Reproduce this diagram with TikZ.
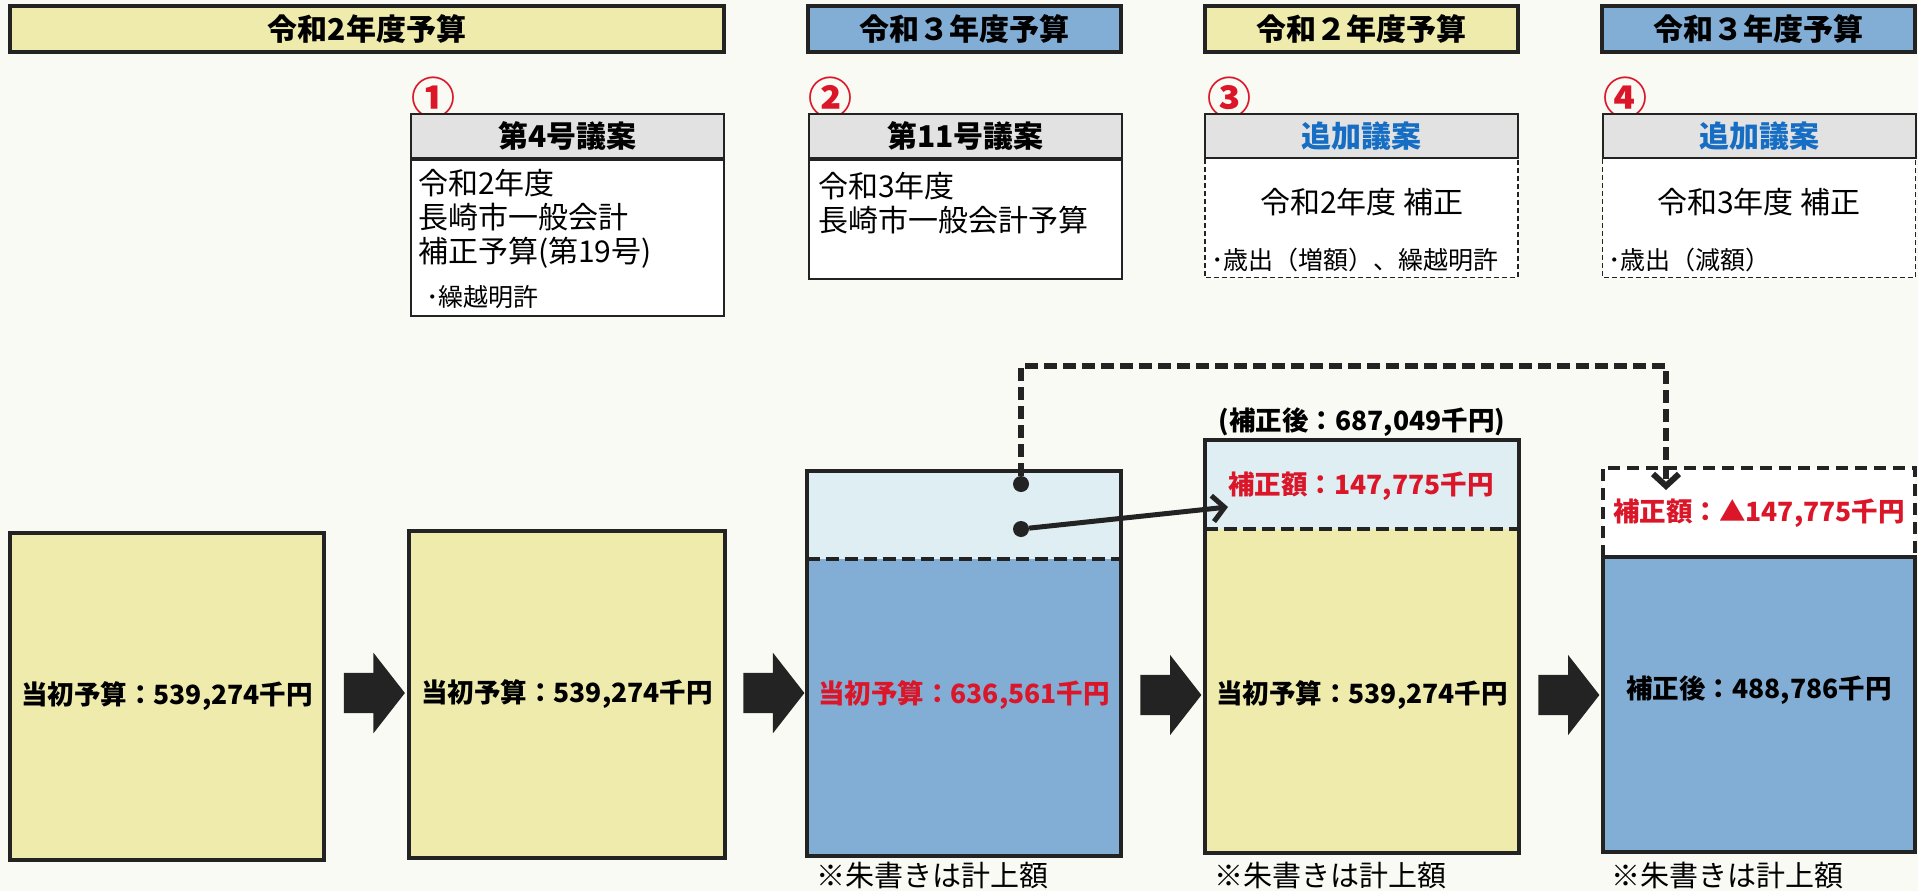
\documentclass[tikz,border=0pt]{standalone}
\usepackage{fontspec}
\setmainfont{Noto Sans CJK JP}
\usetikzlibrary{calc,arrows.meta,shapes.arrows}

\definecolor{paper}{RGB}{250,250,244}
\definecolor{cream}{RGB}{238,235,172}
\definecolor{sky}{RGB}{130,174,214}
\definecolor{pale}{RGB}{222,238,243}
\definecolor{bandgray}{RGB}{226,226,226}
\definecolor{inkred}{RGB}{218,22,40}
\definecolor{inkblue}{RGB}{22,110,196}
\definecolor{ink}{RGB}{35,35,35}

\newcommand{\fsz}[1]{\fontsize{#1}{#1}\selectfont}

\tikzset{
  hdr/.style={draw=ink, line width=4pt, minimum height=46pt, inner sep=0pt, font=\fsz{30}\bfseries},
  bandbox/.style={draw=ink, line width=2pt, fill=bandgray, minimum width=313pt, minimum height=44pt, inner sep=0pt, font=\fsz{30}\bfseries},
  bodybox/.style={draw=ink, line width=2pt, fill=white, minimum width=313pt, inner sep=0pt, anchor=north},
  dashbody/.style={fill=white, minimum width=313pt, inner sep=0pt, anchor=north},
  thindash/.style={draw=ink, line width=1.5pt, dash pattern=on 5pt off 3pt},
  numtxt/.style={text=inkred, font=\fsz{44}\bfseries, inner sep=0pt},
  bodytxt/.style={font=\fontsize{30}{34}\selectfont, align=left, anchor=west, inner sep=0pt},
  smalltxt/.style={font=\fsz{25}, anchor=west, inner sep=0pt},
  bigbox/.style={draw=ink, line width=4pt, inner sep=0pt, font=\fsz{26.5}\bfseries},
  amount/.style={font=\fsz{26.5}\bfseries, inner sep=0pt},
  note/.style={font=\fsz{29}, anchor=west, inner sep=0pt},
  blockarrow/.style={single arrow, fill=ink, minimum height=61pt, minimum width=80pt, single arrow head extend=20pt, single arrow head indent=0pt, single arrow tip angle=104, inner xsep=0pt, inner ysep=20pt},
  dot/.style={circle, fill=ink, minimum size=16pt, inner sep=0pt},
  barb/.style={-{Straight Barb[length=12pt,width=26pt]}},
  link/.style={draw=ink, line width=5pt, barb},
  dashlink/.style={draw=ink, line width=6pt, dash pattern=on 13pt off 6pt, barb},
  sepline/.style={draw=ink, line width=4pt, dash pattern=on 13pt off 6pt},
}

\begin{document}
\begin{tikzpicture}[x=1pt,y=-1pt]
  \path[use as bounding box, fill=paper] (0,0) rectangle (1918,891);

  \node[hdr, fill=cream, minimum width=714pt] (hd1) at (367,29) {令和2年度予算};
  \node[hdr, fill=sky, minimum width=313pt] (hd2) at (964.5,29) {令和３年度予算};
  \node[hdr, fill=cream, minimum width=313pt] (hd3) at (1361.5,29) {令和２年度予算};
  \node[hdr, fill=sky, minimum width=313pt] (hd4) at (1758.5,29) {令和３年度予算};

  \foreach \n/\s/\x in {1/①/433,2/②/830,3/③/1229,4/④/1625}
    \node[numtxt] (no\n) at (\x,98) {\s};

  \node[bandbox] (pr1) at (567.5,136) {第4号議案};
  \node[bodybox, minimum height=156pt] (pb1) at (pr1.south) {};
  \node[bandbox] (pr2) at (965.5,136) {第11号議案};
  \node[bodybox, minimum height=119pt] (pb2) at (pr2.south) {};
  \node[bandbox, text=inkblue] (pr3) at (1361.5,136) {追加議案};
  \node[dashbody, minimum height=118pt] (pb3) at (pr3.south) {};
  \node[bandbox, text=inkblue] (pr4) at (1759,136) {追加議案};
  \node[dashbody, minimum height=118pt] (pb4) at (pr4.south) {};
  \foreach \b in {pb3,pb4}
    \draw[thindash] (\b.north west) -- (\b.south west) -- (\b.south east) -- (\b.north east);

  \node[bodytxt] (tx1) at (418,219) {令和2年度\\長崎市一般会計\\補正予算(第19号)};
  \node[smalltxt] (tx1b) at (426,297) {･繰越明許};
  \node[bodytxt] (tx2) at (818,203) {令和3年度\\長崎市一般会計予算};
  \node[bodytxt, anchor=center] (tx3) at (1362,202) {令和2年度 補正};
  \node[smalltxt] (tx3b) at (1211,260) {･歳出（増額）、繰越明許};
  \node[bodytxt, anchor=center] (tx4) at (1759,202) {令和3年度 補正};
  \node[smalltxt] (tx4b) at (1608,260) {･歳出（減額）};

  \node[bigbox, fill=cream, minimum width=314pt, minimum height=327pt] (bx1) at (167,696.5) {当初予算：539,274千円};
  \node[bigbox, fill=cream, minimum width=316pt, minimum height=327pt] (bx2) at (567,694.5) {当初予算：539,274千円};

  \node[fill=pale, minimum width=314pt, minimum height=88pt, inner sep=0pt] (bx3u) at (964,515) {};
  \node[fill=sky, minimum width=314pt, minimum height=297pt, inner sep=0pt] (bx3) at (964,707.5) {};
  \draw[ink, line width=4pt] (bx3u.north west) rectangle (bx3.south east);
  \draw[sepline] (bx3u.south west) -- (bx3u.south east);
  \node[amount, text=inkred] (am3) at (964,695) {当初予算：636,561千円};

  \node[fill=pale, minimum width=314pt, minimum height=89pt, inner sep=0pt] (bx4u) at (1362,484.5) {};
  \node[fill=cream, minimum width=314pt, minimum height=324pt, inner sep=0pt] (bx4) at (1362,691) {};
  \draw[ink, line width=4pt] (bx4u.north west) rectangle (bx4.south east);
  \draw[sepline] (bx4u.south west) -- (bx4u.south east);
  \node[amount] (am4t) at (1362,422) {(補正後：687,049千円)};
  \node[amount, text=inkred] (am4u) at (1361,486) {補正額：147,775千円};
  \node[amount] (am4) at (1362,695) {当初予算：539,274千円};

  \node[fill=white, minimum width=312pt, minimum height=89pt, inner sep=0pt] (bx5u) at (1759,512.5) {};
  \node[bigbox, fill=sky, minimum width=312pt, minimum height=295pt] (bx5) at (1759,704.5) {};
  \draw[ink, line width=4pt, dash pattern=on 12pt off 7pt] (bx5u.south west) -- (bx5u.north west) -- (bx5u.north east) -- (bx5u.south east);
  \node[amount, text=inkred] (am5u) at (1759,513) {補正額：▲147,775千円};
  \node[amount] (am5) at (1759,690) {補正後：488,786千円};

  \foreach \n/\x/\y in {1/366.5/693,2/766/693,3/1163/695,4/1561/695}
    \node[blockarrow] (ar\n) at (\x,\y) {};

  \node[note] (nt3) at (816,875) {※朱書きは計上額};
  \node[note] (nt4) at (1214,875) {※朱書きは計上額};
  \node[note] (nt5) at (1611,875) {※朱書きは計上額};

  \node[dot] (d1) at (1021,484) {};
  \node[dot] (d2) at (1021,529) {};
  \coordinate (k1) at (1666,490);
  \coordinate (k2) at (1228,507);
  \draw[dashlink] (d1) -- (d1 |- 0,366) -| (k1);
  \draw[link] (d2) -- (k2);
\end{tikzpicture}
\end{document}
